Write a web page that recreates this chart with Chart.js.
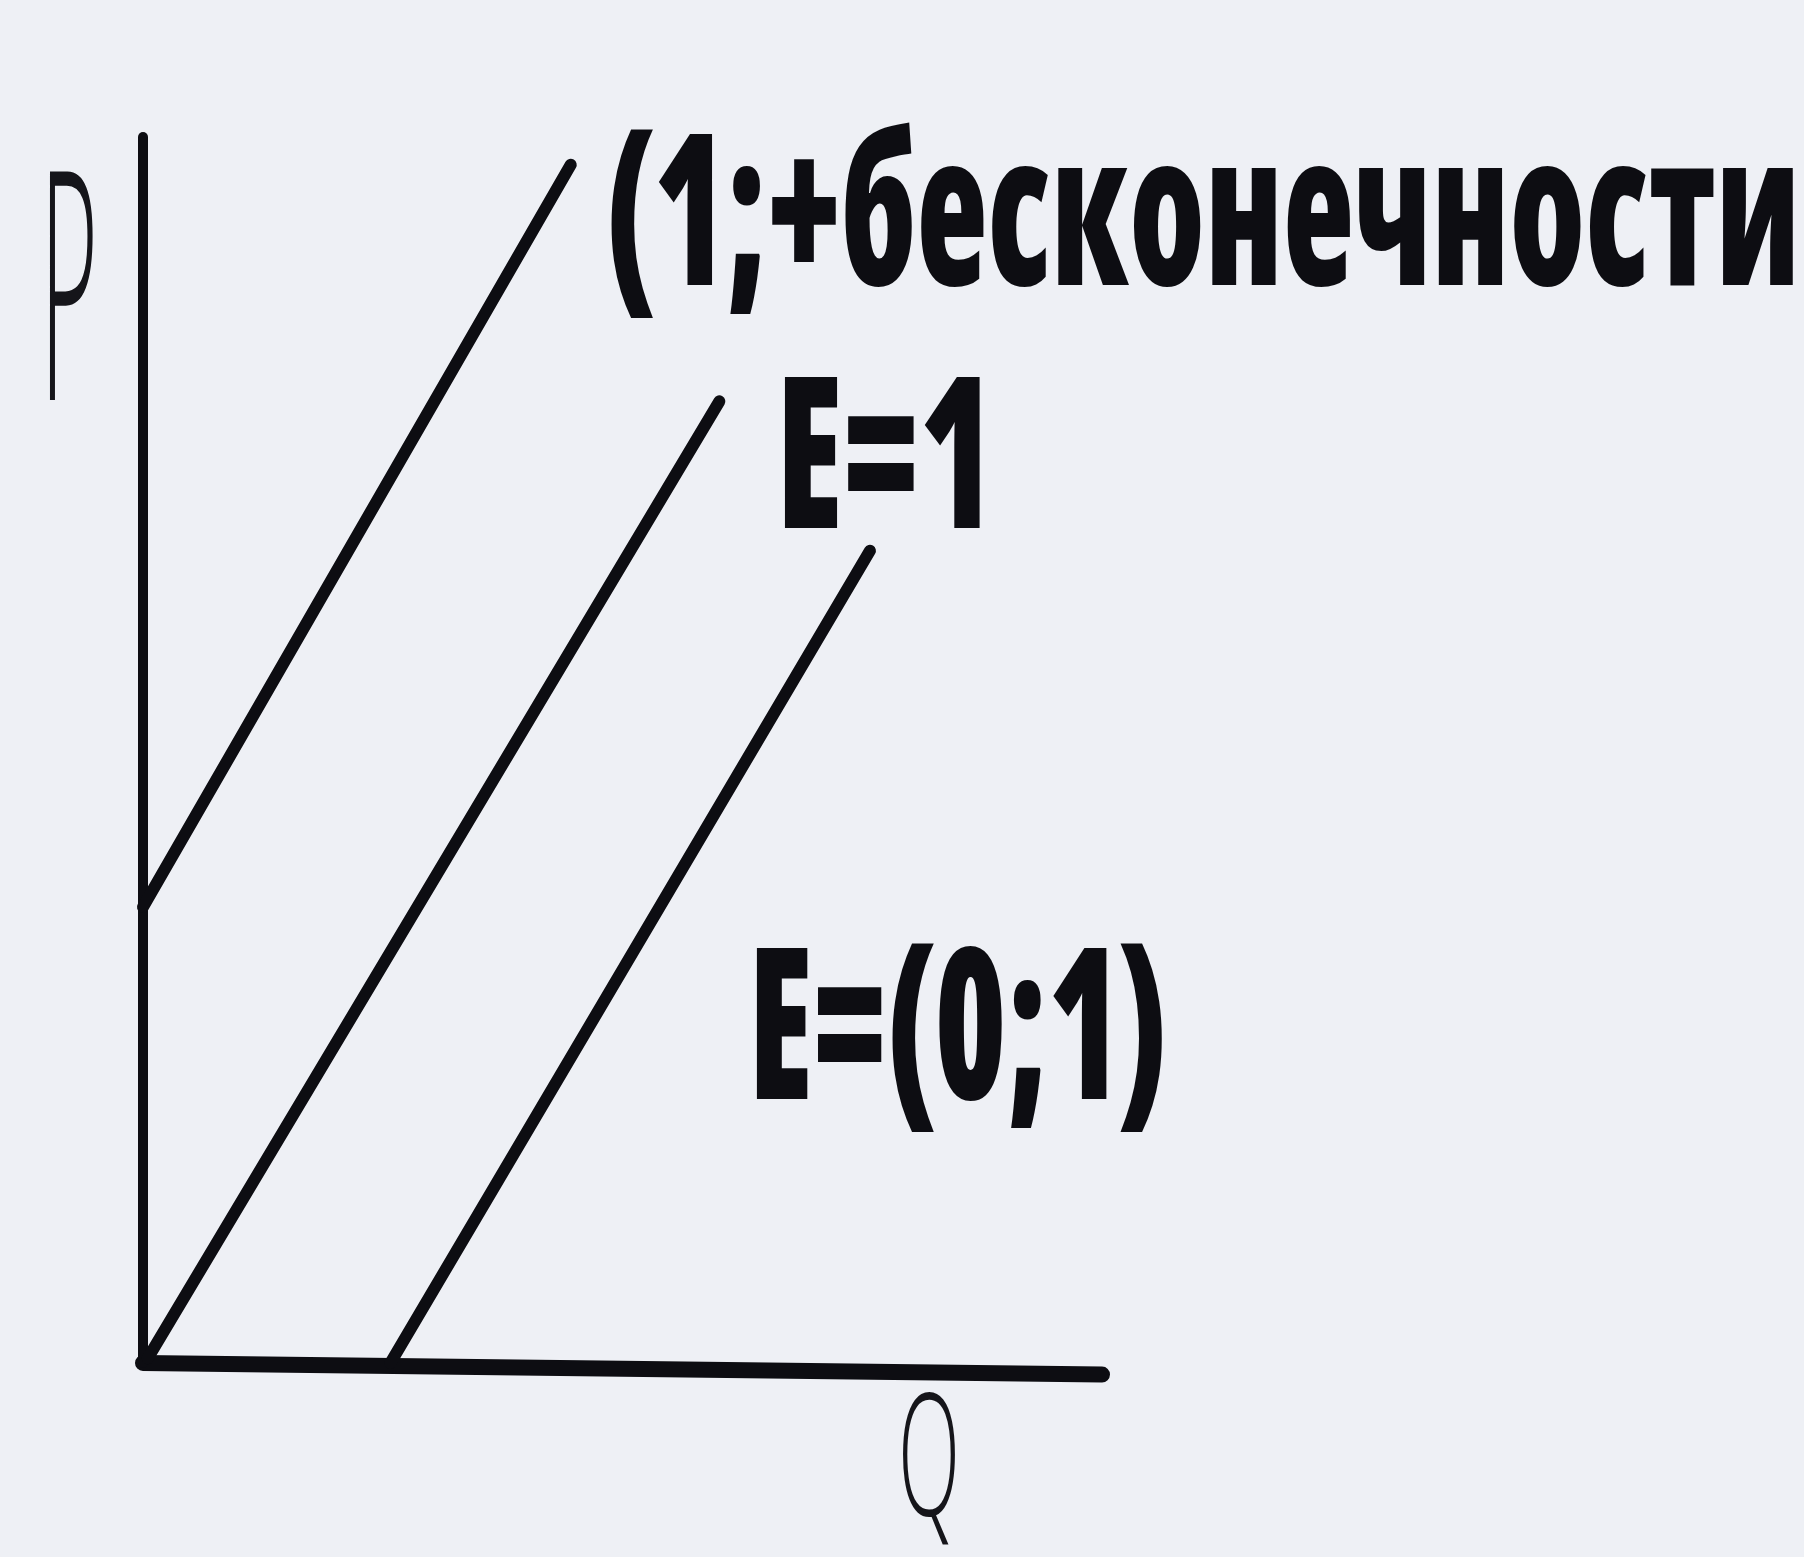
<!DOCTYPE html>
<html lang="ru">
<head>
<meta charset="utf-8">
<title>Эластичность предложения</title>
<script src="https://cdn.jsdelivr.net/npm/chart.js@4.4.1/dist/chart.umd.min.js"></script>
<style>
    html, body { margin: 0; padding: 0; background: #eef0f5; }
    #chart { display: block; background: #eef0f5; }
</style>
</head>
<body>
<canvas id="chart" width="1804" height="1557"></canvas>
<script>
// supply lines (Q along x, P along y)
const lineNames = ['(1;+бесконечности', 'E=1', 'E=(0;1)'];
const startQ = [0, 0.05, 2.58];
const startP = [4.76, 0.05, 0];
const endQ = [4.46, 6.01, 7.58];
const endP = [12.51, 10.04, 8.48];

// axes
const axisNames = ['Q', 'P'];
const qRange = [0, 10];
const pRange = [0, 12.8];
const qAxisEndP = -0.12; // the hand drawn Q axis sags a little to the right

// where the captions sit (left edge / baseline, in Q-P units)
const captionQ = [4.82, 6.6, 6.31];
const captionP = [11.25, 8.72, 2.76];

const INK = '#0d0d12';
const BOLD = "800 212px 'Open Sans', 'Noto Sans', sans-serif";
const captionWidth = [1195, 218, 420];

const Drawing = {
    chart: null,

    init: () => {
        const datasets = lineNames.map((name, i) => ({
            label: name,
            data: [{ x: startQ[i], y: startP[i] }, { x: endQ[i], y: endP[i] }],
            borderColor: INK,
            borderWidth: 12,
            borderCapStyle: 'round',
            showLine: true,
            pointRadius: 0,
            clip: false
        }));

        // the two axes are drawn as plain lines
        datasets.push({
            label: axisNames[1],
            data: [{ x: qRange[0], y: pRange[0] }, { x: qRange[0], y: pRange[1] }],
            borderColor: INK, borderWidth: 10, borderCapStyle: 'round',
            showLine: true, pointRadius: 0, clip: false
        });
        datasets.push({
            label: axisNames[0],
            data: [{ x: qRange[0], y: pRange[0] }, { x: qRange[1], y: qAxisEndP }],
            borderColor: INK, borderWidth: 16, borderCapStyle: 'round',
            showLine: true, pointRadius: 0, clip: false
        });

        const ctx = document.getElementById('chart').getContext('2d');
        Drawing.chart = new Chart(ctx, {
            type: 'scatter',
            data: { datasets },
            options: {
                responsive: false,
                animation: false,
                devicePixelRatio: 1,
                layout: { padding: { left: 143, top: 137, right: 702, bottom: 194 } },
                plugins: { legend: { display: false }, tooltip: { enabled: false } },
                scales: {
                    x: { type: 'linear', min: qRange[0], max: qRange[1], display: false },
                    y: { type: 'linear', min: pRange[0], max: pRange[1], display: false }
                }
            },
            plugins: [Drawing.captions]
        });
    },

    captions: {
        id: 'captions',
        afterDatasetsDraw: (chart) => {
            const { ctx, scales: { x, y } } = chart;
            ctx.save();
            ctx.fillStyle = INK;
            ctx.textBaseline = 'alphabetic';
            ctx.textAlign = 'left';

            ctx.font = BOLD;
            ctx.fontStretch = 'semi-condensed';
            lineNames.forEach((name, i) => {
                ctx.fillText(name, x.getPixelForValue(captionQ[i]), y.getPixelForValue(captionP[i]), captionWidth[i]);
            });

            // hand written axis names
            ctx.fontStretch = 'normal';
            ctx.fillStyle = '#15151a';
            ctx.font = "300 320px 'Open Sans', 'DejaVu Sans', sans-serif";
            ctx.fillText(axisNames[1], 40, 400, 58);
            ctx.font = "300 170px 'Open Sans', 'DejaVu Sans', sans-serif";
            ctx.fillText(axisNames[0], 898, 1515, 62);
            ctx.restore();
        }
    }
};

document.addEventListener('DOMContentLoaded', Drawing.init);
</script>
</body>
</html>
